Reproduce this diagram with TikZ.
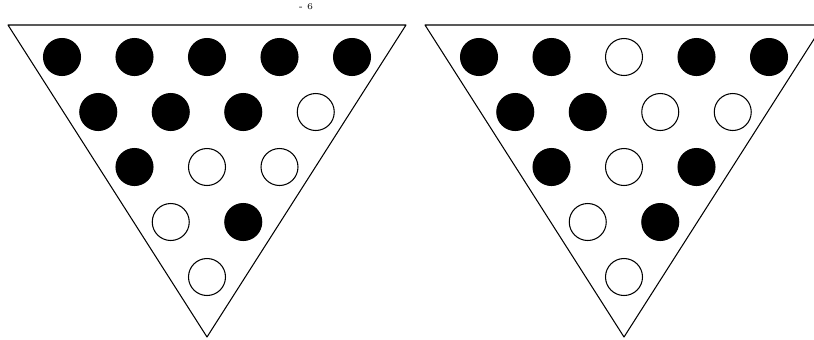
\documentclass[tikz,border=0pt]{standalone}
\begin{document}
\begin{tikzpicture}[x=0.02cm, y=-0.02cm, line join=round, line cap=round,
	hole1/.style={draw=black, fill=black, line width=0.6pt},
	hole0/.style={draw=black, fill=white, line width=0.6pt}]
	\useasboundingbox (0,0) rectangle (814,339);
	\clip (0,0) rectangle (814,339);
	\node[font=\fontsize{5}{5}\selectfont, inner sep=0pt] (cut) at (306,7) {- 6};
	% triangles: left corner, right corner, apex
	\foreach \cx/\name in {207/L, 624/R} {
		\draw[line width=0.6pt] (\cx-199,25) -- (\cx+199,25) -- (\cx,337) -- cycle;
	}
	% left board
	\foreach \r/\cells in {0/{1,1,1,1,1}, 1/{1,1,1,0}, 2/{1,0,0}, 3/{0,1}, 4/{0}}
		\foreach \c [count=\i from 0] in \cells
			\draw[hole\c] ({207+(\i-(4-\r)/2)*72.5}, {57+\r*55}) circle (18.5);
	% right board
	\foreach \r/\cells in {0/{1,1,0,1,1}, 1/{1,1,0,0}, 2/{1,0,1}, 3/{0,1}, 4/{0}}
		\foreach \c [count=\i from 0] in \cells
			\draw[hole\c] ({624+(\i-(4-\r)/2)*72.5}, {57+\r*55}) circle (18.5);
\end{tikzpicture}
\end{document}
